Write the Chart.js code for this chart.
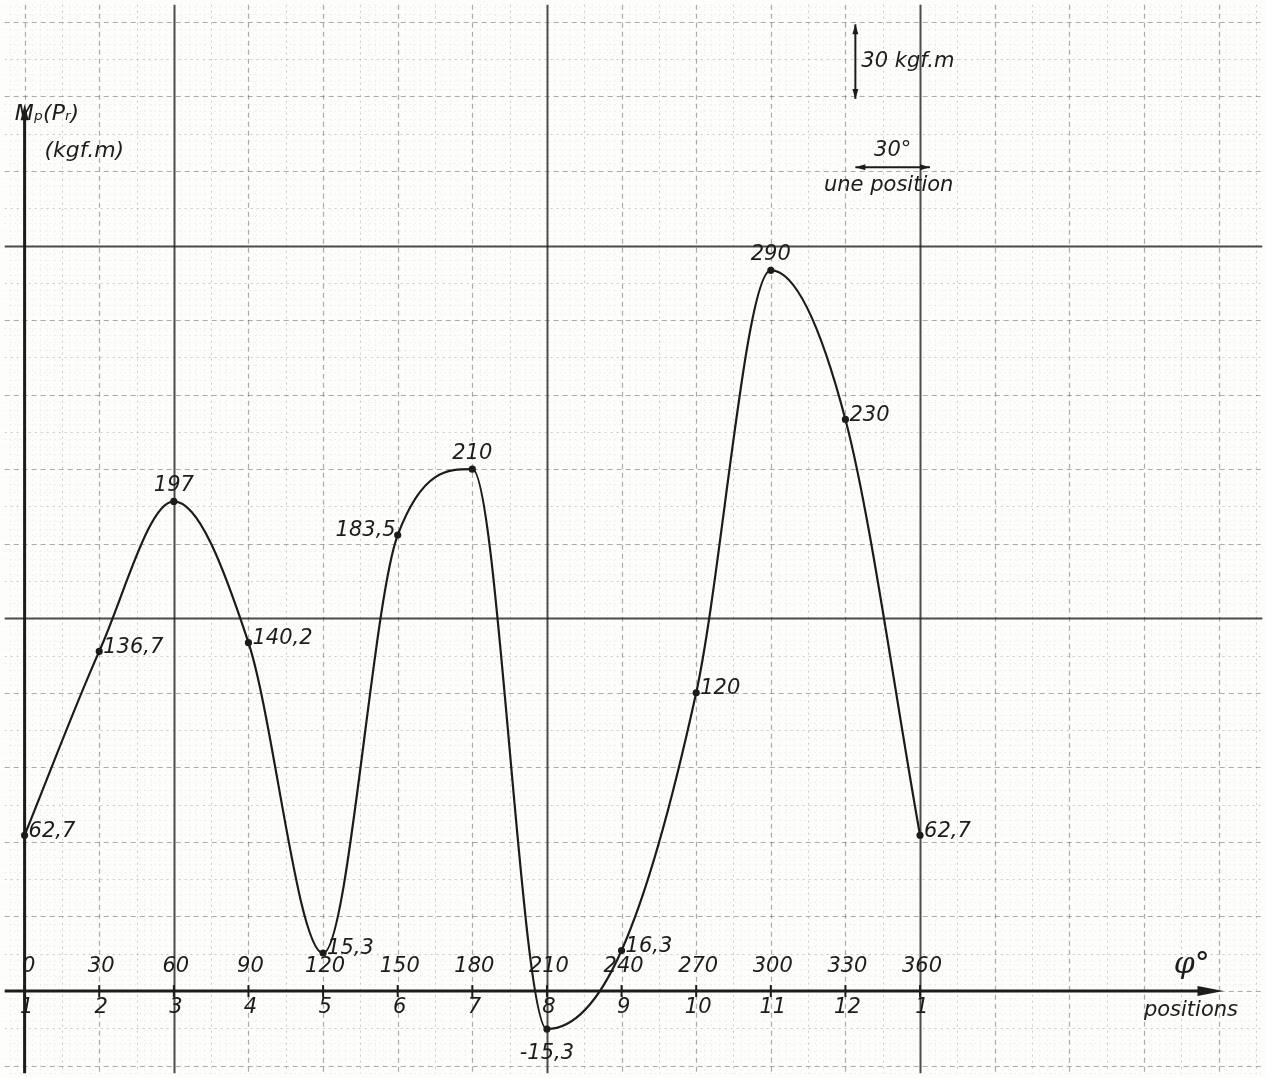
<!DOCTYPE html>
<html>
<head>
<meta charset="utf-8">
<script src="https://cdn.jsdelivr.net/npm/chart.js@4.4.1/dist/chart.umd.min.js"></script>
<style>
  html, body { margin: 0; padding: 0; background: #fdfdfb; }
  #wrap { width: 1267px; height: 1078px; }
</style>
</head>
<body>
<div id="wrap"><canvas id="torque"></canvas></div>
<script>
// crank angle (deg), positions and resulting torque Mp(Pr) in kgf.m
const degrees = [0, 30, 60, 90, 120, 150, 180, 210, 240, 270, 300, 330, 360];
const positions = ['1', '2', '3', '4', '5', '6', '7', '8', '9', '10', '11', '12', '1'];
const moment = [62.7, 136.7, 197, 140.2, 15.3, 183.5, 210, -15.3, 16.3, 120, 290, 230, 62.7];
const pointLabels = ['62,7', '136,7', '197', '140,2', '15,3', '183,5', '210', '-15,3', '16,3', '120', '290', '230', '62,7'];

const ink = '#1c1c1c';
const hand = 'italic 21px "DejaVu Sans"';

// where each value label sits relative to its point
const labelSide = ['right', 'right', 'above', 'right', 'right', 'left', 'above', 'below', 'right', 'right', 'above', 'right', 'right'];

const paperPlugin = {
    id: 'paper',
    beforeDraw(chart) {
        const ctx = chart.ctx;
        ctx.save();
        ctx.fillStyle = '#fdfdfb';
        ctx.fillRect(0, 0, chart.width, chart.height);
        ctx.restore();
    },
    beforeDatasetsDraw(chart) {
        const ctx = chart.ctx;
        const xs = chart.scales.x, ys = chart.scales.y;
        const top = chart.chartArea.top, bottom = chart.chartArea.bottom;
        const left = chart.chartArea.left, right = chart.chartArea.right;

        function style(kind) {
            if (kind === 'heavy') { ctx.strokeStyle = 'rgba(30,30,30,0.8)'; ctx.lineWidth = 2; ctx.setLineDash([]); }
            else if (kind === 'cm') { ctx.strokeStyle = 'rgba(70,70,70,0.45)'; ctx.lineWidth = 1.2; ctx.setLineDash([5, 4]); }
            else if (kind === 'half') { ctx.strokeStyle = 'rgba(90,90,90,0.3)'; ctx.lineWidth = 1; ctx.setLineDash([2, 4]); }
            else { ctx.strokeStyle = 'rgba(110,110,110,0.16)'; ctx.lineWidth = 1; ctx.setLineDash([1, 4]); }
        }
        ctx.save();
        for (let v = Math.ceil(xs.min / 3) * 3; v <= xs.max; v += 3) {
            let kind = 'mm';
            if (((v - 60) % 150 + 150) % 150 === 0) kind = 'heavy';
            else if (v % 30 === 0) kind = 'cm';
            else if (v % 15 === 0) kind = 'half';
            style(kind);
            const px = Math.round(xs.getPixelForValue(v)) + 0.5;
            ctx.beginPath(); ctx.moveTo(px, top); ctx.lineTo(px, bottom); ctx.stroke();
        }
        for (let v = Math.ceil(ys.min / 3) * 3; v <= ys.max; v += 3) {
            let kind = 'mm';
            if (v % 150 === 0 && v !== 0) kind = 'heavy';
            else if (v % 30 === 0) kind = 'cm';
            else if (v % 15 === 0) kind = 'half';
            style(kind);
            const py = Math.round(ys.getPixelForValue(v)) + 0.5;
            ctx.beginPath(); ctx.moveTo(left, py); ctx.lineTo(right, py); ctx.stroke();
        }
        ctx.setLineDash([]);

        // axes
        const x0 = xs.getPixelForValue(0), y0 = ys.getPixelForValue(0);
        ctx.strokeStyle = ink; ctx.fillStyle = ink; ctx.lineWidth = 3;
        ctx.beginPath(); ctx.moveTo(left, y0); ctx.lineTo(xs.getPixelForValue(478), y0); ctx.stroke();
        const xe = xs.getPixelForValue(482);
        ctx.beginPath(); ctx.moveTo(xe, y0); ctx.lineTo(xe - 26, y0 - 5); ctx.lineTo(xe - 26, y0 + 5); ctx.closePath(); ctx.fill();
        const yt = ys.getPixelForValue(352);
        ctx.beginPath(); ctx.moveTo(x0, bottom); ctx.lineTo(x0, yt); ctx.stroke();
        ctx.beginPath(); ctx.moveTo(x0, yt - 12); ctx.lineTo(x0 - 4, yt + 4); ctx.lineTo(x0 + 4, yt + 4); ctx.closePath(); ctx.fill();

        // ticks on the angle axis
        ctx.lineWidth = 2;
        degrees.forEach((d) => {
            const px = xs.getPixelForValue(d);
            ctx.beginPath(); ctx.moveTo(px, y0 - 6); ctx.lineTo(px, y0 + 6); ctx.stroke();
        });
        ctx.restore();
    },
    afterDatasetsDraw(chart) {
        const ctx = chart.ctx;
        const xs = chart.scales.x, ys = chart.scales.y;
        const y0 = ys.getPixelForValue(0);
        ctx.save();
        ctx.fillStyle = ink;
        ctx.font = hand;
        ctx.textBaseline = 'middle';

        // tick labels: degrees above, positions below
        ctx.textAlign = 'center';
        degrees.forEach((d, i) => {
            const px = xs.getPixelForValue(d);
            ctx.fillText(String(d), px + (i === 0 ? 4 : 2), y0 - 24);
            ctx.fillText(positions[i], px + 2, y0 + 17);
        });

        // value labels next to each point
        const meta = chart.getDatasetMeta(0);
        meta.data.forEach((pt, i) => {
            const side = labelSide[i];
            let tx = pt.x, ty = pt.y;
            if (side === 'right') { ctx.textAlign = 'left'; tx += 4; ty -= 4; }
            else if (side === 'left') { ctx.textAlign = 'right'; tx -= 2; ty -= 4; }
            else if (side === 'above') { ctx.textAlign = 'center'; ty -= 16; }
            else { ctx.textAlign = 'center'; ty += 24; }
            ctx.fillText(pointLabels[i], tx, ty);
        });

        // axis names
        ctx.textAlign = 'left';
        ctx.font = 'italic 22px "DejaVu Sans"';
        ctx.fillText('M\u209A(P\u1D63)', xs.getPixelForValue(-4), ys.getPixelForValue(353));
        ctx.fillText('(kgf.m)', xs.getPixelForValue(8), ys.getPixelForValue(338));
        ctx.font = 'italic 30px "DejaVu Serif"';
        ctx.fillText('\u03C6\u00B0', xs.getPixelForValue(462), y0 - 26);
        ctx.font = hand;
        ctx.fillText('positions', xs.getPixelForValue(450), y0 + 20);

        // scale key: 30 kgf.m vertically, 30 deg horizontally
        ctx.strokeStyle = ink; ctx.lineWidth = 2;
        const kx = xs.getPixelForValue(334);
        const k1 = ys.getPixelForValue(389), k2 = ys.getPixelForValue(359);
        ctx.beginPath(); ctx.moveTo(kx, k1); ctx.lineTo(kx, k2); ctx.stroke();
        ctx.beginPath(); ctx.moveTo(kx, k1); ctx.lineTo(kx - 3, k1 + 10); ctx.lineTo(kx + 3, k1 + 10); ctx.closePath(); ctx.fill();
        ctx.beginPath(); ctx.moveTo(kx, k2); ctx.lineTo(kx - 3, k2 - 10); ctx.lineTo(kx + 3, k2 - 10); ctx.closePath(); ctx.fill();
        ctx.textAlign = 'left';
        ctx.fillText('30 kgf.m', kx + 6, ys.getPixelForValue(374));

        const hy = ys.getPixelForValue(331.5);
        const h1 = xs.getPixelForValue(334), h2 = xs.getPixelForValue(364);
        ctx.beginPath(); ctx.moveTo(h1, hy); ctx.lineTo(h2, hy); ctx.stroke();
        ctx.beginPath(); ctx.moveTo(h1, hy); ctx.lineTo(h1 + 10, hy - 3); ctx.lineTo(h1 + 10, hy + 3); ctx.closePath(); ctx.fill();
        ctx.beginPath(); ctx.moveTo(h2, hy); ctx.lineTo(h2 - 10, hy - 3); ctx.lineTo(h2 - 10, hy + 3); ctx.closePath(); ctx.fill();
        ctx.textAlign = 'center';
        ctx.fillText('30\u00B0', (h1 + h2) / 2, hy - 17);
        ctx.fillText('une position', (h1 + h2) / 2 - 4, hy + 18);
        ctx.restore();
    }
};

const torqueCfg = {
    type: 'line',
    data: {
        datasets: [{
            label: 'Mp(Pr)',
            data: degrees.map((d, i) => ({ x: d, y: moment[i] })),
            borderColor: ink,
            backgroundColor: ink,
            borderWidth: 2.2,
            pointRadius: 2.5,
            pointHoverRadius: 2.5,
            cubicInterpolationMode: 'monotone',
            fill: false
        }]
    },
    options: {
        responsive: true,
        maintainAspectRatio: false,
        animation: false,
        layout: { padding: 0 },
        plugins: { legend: { display: false }, tooltip: { enabled: false } },
        scales: {
            x: { type: 'linear', min: -8, max: 497.6, display: false },
            y: { type: 'linear', min: -33.1, max: 396.9, display: false }
        }
    },
    plugins: [paperPlugin]
};

const torque = new Chart(document.getElementById('torque'), torqueCfg);
</script>
</body>
</html>
